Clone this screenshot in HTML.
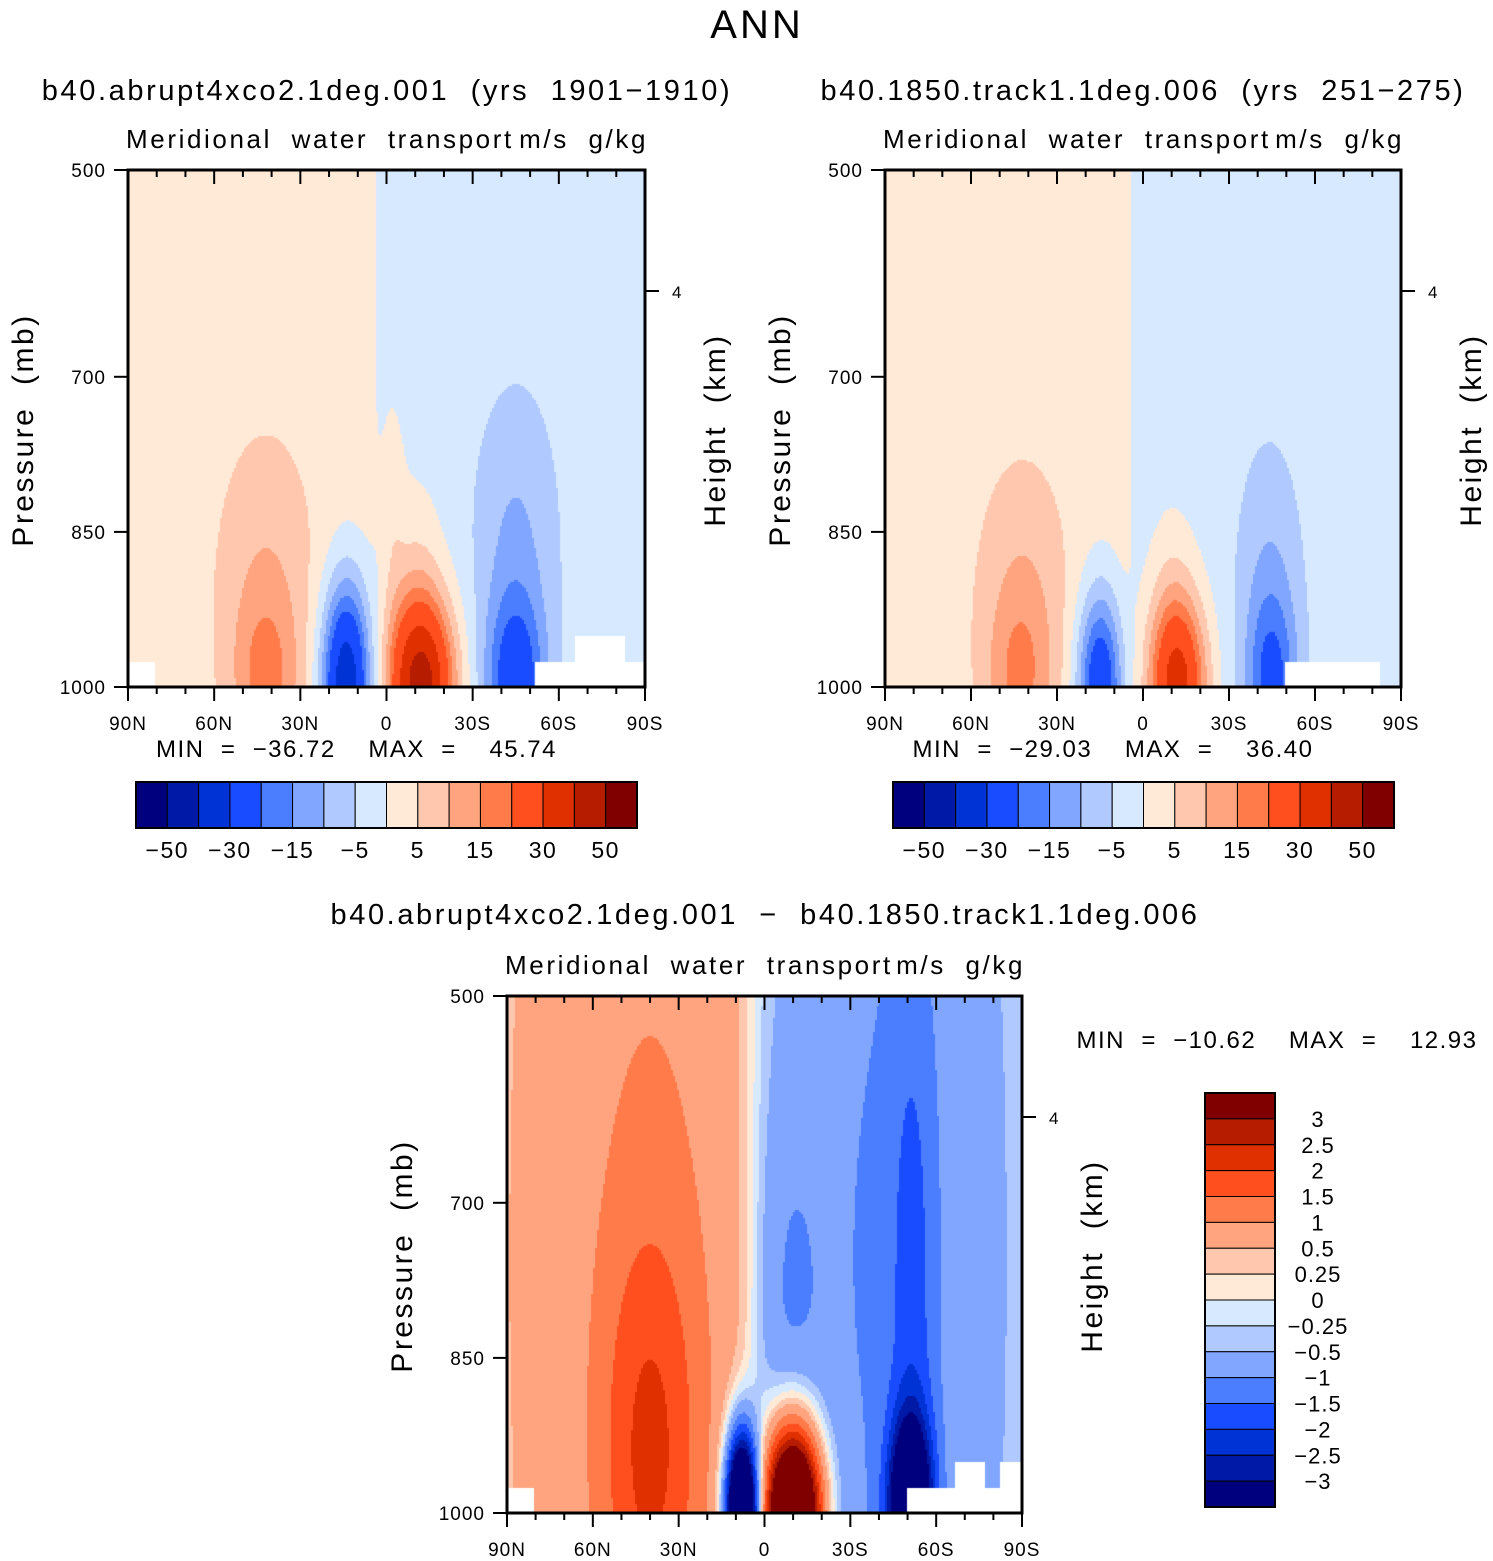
<!DOCTYPE html>
<html><head><meta charset="utf-8">
<style>
body{margin:0;background:#fff;}
#root{position:relative;width:1493px;height:1561px;overflow:hidden;font-family:"Liberation Sans",sans-serif;}
canvas{position:absolute;}
svg{position:absolute;left:0;top:0;}
svg text{white-space:pre;}
</style></head>
<body>
<div id="root">
<canvas id="c1"></canvas>
<canvas id="c2"></canvas>
<canvas id="c3"></canvas>
<svg id="s" width="1493" height="1561"></svg>
</div>
<script>
// ---- data ----
const levelsAbs=[-50,-40,-30,-20,-15,-10,-5,0,5,10,15,20,30,40,50];
const levelsDiff=[-3,-2.5,-2,-1.5,-1,-0.5,-0.25,0,0.25,0.5,1,1.5,2,2.5,3];
const colors=["#00007f","#0019a6","#0033d6","#1a4cff","#4a7dff","#80a6ff","#b0c9ff","#d7e9ff","#ffe9d7","#ffc8ae","#ffa47e","#ff7b4a","#ff4f1f","#e03000","#b51c00","#800000"];
const absTickLabels=["−50","−30","−15","−5","5","15","30","50"];
const diffTickLabels=["3","2.5","2","1.5","1","0.5","0.25","0","−0.25","−0.5","−1","−1.5","−2","−2.5","−3"];
const latTicks=[90,60,30,0,-30,-60,-90];
const latLabels=["90N","60N","30N","0","30S","60S","90S"];
const presTicks=[500,700,850,1000];
// blobs: [lat, pressure, amplitude, sigmaLat, sigmaP]
const p1Base=[2.5,-2.5,3];
const p1Blobs=[[-12,1000,46,8,60],[-10,900,5,7,80],[14,1000,-40,6,70],[42,1000,11,8,60],[42,900,7,12,100],[-45,1000,-22,7,60],[-45,860,-8,10,100],[-2,820,4,3,80]];
const p2Base=[2.5,-2.5,3];
const p2Blobs=[[-12,1000,36,7,60],[-10,910,4,6,70],[15,1000,-30,5.5,65],[43,1000,10,8,60],[42,910,7,11,90],[-45,1000,-17,6,60],[-44,900,-7,8,95]];
const p3Base=[0.45,-0.45,5];
const p3Blobs=[[8,1000,-7,4,55],[-10,1000,7,7,60],[-51,1000,-5,5,60],[40,950,1.2,12,150],[40,750,0.6,22,400],[-40,750,-0.6,20,400],[-8,800,-0.5,8,150],[-52,800,-0.8,6,250]];
const minmax=[["−36.72","45.74"],["−29.03","36.40"],["−10.62","12.93"]];

const panels=[
 {id:"c1",x:128,y:170,w:517,h:517,base:p1Base,blobs:p1Blobs,lev:levelsAbs,white:[[128,662,27,25],[535,662,110,25],[575,636,50,26]]},
 {id:"c2",x:885,y:170,w:516,h:517,base:p2Base,blobs:p2Blobs,lev:levelsAbs,white:[[1285,662,95,25]]},
 {id:"c3",x:507,y:996,w:515,h:517,base:p3Base,blobs:p3Blobs,lev:levelsDiff,white:[[507,1488,27,25],[907,1488,115,25],[955,1462,30,26],[1000,1462,22,26]]}
];
function field(P,lat,p){
  let v=(P.base[0]+P.base[1])/2+(P.base[0]-P.base[1])/2*Math.tanh((lat-4)/P.base[2]);
  for(const b of P.blobs){const dl=(lat-b[0])/b[3],dp=(p-b[1])/b[4];v+=b[2]*Math.exp(-0.5*(dl*dl+dp*dp));}
  return v;
}
function idx(lev,v){let i=0;while(i<lev.length&&v>=lev[i])i++;return i;}
panels.forEach(P=>{
  const c=document.getElementById(P.id);c.width=P.w;c.height=P.h;c.style.left=P.x+"px";c.style.top=P.y+"px";
  const g=c.getContext("2d");const st=2;
  for(let px=0;px<P.w;px+=st)for(let py=0;py<P.h;py+=st){
    const lat=90-(px+1)/P.w*180,p=500+(py+1)/P.h*500;
    g.fillStyle=colors[idx(P.lev,field(P,lat,p))];g.fillRect(px,py,st,st);
  }
  g.fillStyle="#fff";P.white.forEach(r=>g.fillRect(r[0]-P.x,r[1]-P.y,r[2],r[3]));
});
// ---- axes ----
const S=document.getElementById("s");const NS="http://www.w3.org/2000/svg";
function el(t,a,txt){const e=document.createElementNS(NS,t);for(const k in a)e.setAttribute(k,a[k]);if(txt!==undefined)e.textContent=txt;S.appendChild(e);return e;}
function T(x,y,s,txt,anchor,name,rot,ls){const a={x:x,y:y,"font-size":s,"text-anchor":anchor||"middle",fill:"#000","font-family":"Liberation Sans, sans-serif","letter-spacing":(ls||0)+"px"};if(rot)a.transform="rotate(-90 "+x+" "+y+")";const e=el("text",a,txt);

return e;}
T(757,38,40,"ANN","middle","figure-title",false,3);
const subs=[[387,100,"b40.abrupt4xco2.1deg.001  (yrs  1901−1910)"],[1143,100,"b40.1850.track1.1deg.006  (yrs  251−275)"],[765,924,"b40.abrupt4xco2.1deg.001  −  b40.1850.track1.1deg.006"]];
subs.forEach((s,i)=>T(s[0],s[1],29,s[2],"middle","panel-title-"+(i+1),false,2.6));
panels.forEach((P,i)=>{
  const xs=lat=>P.x+(90-lat)/180*P.w, ys=p=>P.y+(p-500)/500*P.h;
  T(P.x-2,P.y-22,26,"Meridional  water  transport","start","var-name-"+(i+1),false,2.6);
  T(P.x+P.w+3,P.y-22,26,"m/s  g/kg","end","units-"+(i+1),false,2.6);
  const r=el("rect",{x:P.x,y:P.y,width:P.w,height:P.h,fill:"none",stroke:"#000","stroke-width":3});
  
  
  for(let lat=90;lat>=-90;lat-=10){const x=xs(lat),maj=lat%30===0;
    el("line",{x1:x,y1:P.y+P.h,x2:x,y2:P.y+P.h+(maj?14:7),stroke:"#000","stroke-width":2});
    el("line",{x1:x,y1:P.y,x2:x,y2:P.y+(maj?14:7),stroke:"#000","stroke-width":2});}
  latTicks.forEach((l,k)=>T(xs(l),P.y+P.h+43,19,latLabels[k],"middle","x-tick-label",false,1));
  presTicks.forEach(p=>{el("line",{x1:P.x-14,y1:ys(p),x2:P.x,y2:ys(p),stroke:"#000","stroke-width":2});
    T(P.x-22,ys(p)+7,19,String(p),"end","y-tick-label",false,1);});
  el("line",{x1:P.x+P.w,y1:P.y+121,x2:P.x+P.w+14,y2:P.y+121,stroke:"#000","stroke-width":2});
  T(P.x+P.w+27,P.y+128,17,"4","start","height-tick-label");
  T(P.x-95,P.y+260,30,"Pressure  (mb)","middle","y-axis-title",true,2.5);
  T(P.x+P.w+80,P.y+260,30,"Height  (km)","middle","right-axis-title",true,2.5);
  if(i<2){
    T(P.x+P.w/2-30,P.y+P.h+70,24,"MIN  =  "+minmax[i][0]+"    MAX  =    "+minmax[i][1],"middle","min-max-label",false,1.5);
    const bx=P.x+8,bw=501/16;
    colors.forEach((c,k)=>{const r=el("rect",{x:bx+k*bw,y:782,width:bw,height:46,fill:c,stroke:"#000","stroke-width":1});
      });
    el("rect",{x:bx,y:782,width:501,height:46,fill:"none",stroke:"#000","stroke-width":2});
    absTickLabels.forEach((t,k)=>T(bx+(1+2*k)*bw,858,23,t,"middle","colorbar-label",false,1.5));
  }else{
    T(1277,1048,24,"MIN  =  "+minmax[2][0]+"    MAX  =    "+minmax[2][1],"middle","min-max-label",false,1.5);
    const by=1093,bh=414/16;
    colors.slice().reverse().forEach((c,k)=>{const r=el("rect",{x:1205,y:by+k*bh,width:70,height:bh,fill:c,stroke:"#000","stroke-width":1});
      });
    el("rect",{x:1205,y:by,width:70,height:414,fill:"none",stroke:"#000","stroke-width":2});
    diffTickLabels.forEach((t,k)=>T(1318,by+(k+1)*bh+8,22,t,"middle","colorbar-label",false,1));
  }
});
</script>
</body></html>
